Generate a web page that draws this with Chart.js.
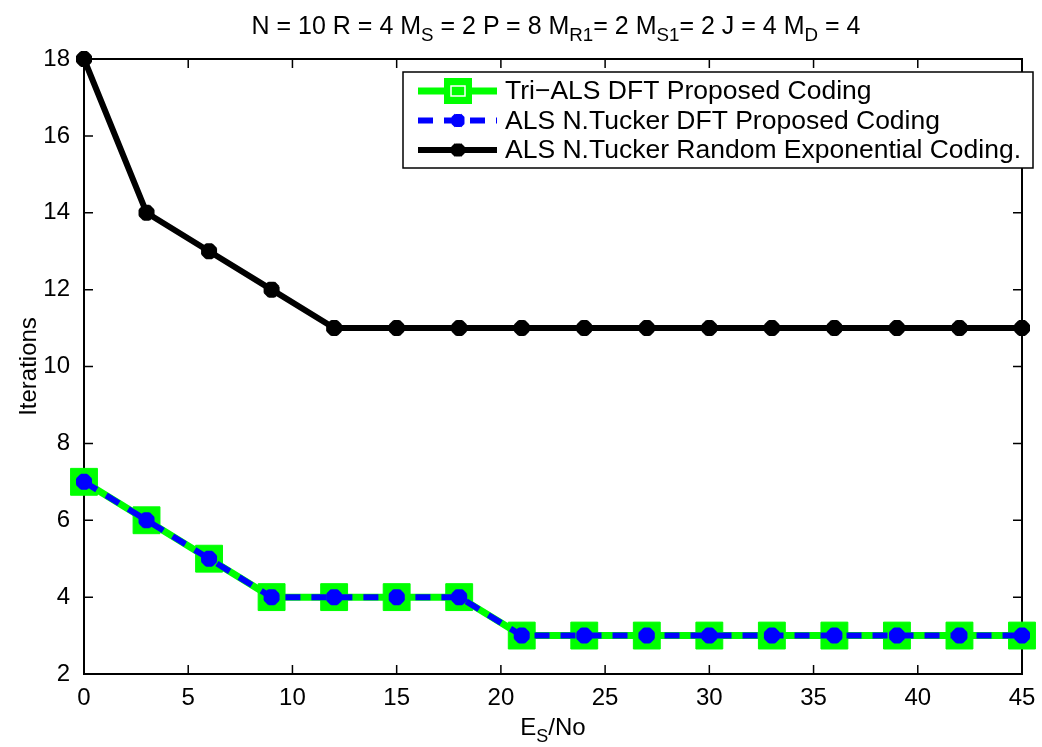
<!DOCTYPE html>
<html>
<head>
<meta charset="utf-8">
<script src="https://cdn.jsdelivr.net/npm/chart.js@4/dist/chart.umd.min.js"></script>
<style>
  body { margin: 0; background: #fff; }
  #wrap { position: relative; width: 1042px; height: 747px; font-family: "Liberation Sans", Arial, sans-serif; }
  #titre { position: absolute; left: 0; top: 11px; width: 1112px; text-align: center; font-size: 25px; color: #000; white-space: nowrap; }
  #xlab { position: absolute; left: 0; top: 713px; width: 1106px; text-align: center; font-size: 24px; color: #000; }
  sub { font-size: 75%; vertical-align: -7px; line-height: 0; }
</style>
</head>
<body>
<div id="wrap">
  <canvas id="chart" width="1042" height="747"></canvas>
  <div id="titre">N = 10 R = 4 M<sub>S</sub> = 2 P = 8 M<sub>R1</sub>= 2 M<sub>S1</sub>= 2 J = 4 M<sub>D</sub> = 4</div>
  <div id="xlab">E<sub>S</sub>/No</div>
</div>
<script>
// valeurs
const esNo = [0, 3, 6, 9, 12, 15, 18, 21, 24, 27, 30, 33, 36, 39, 42, 45];
const triAlsDft = [7, 6, 5, 4, 4, 4, 4, 3, 3, 3, 3, 3, 3, 3, 3, 3];
const alsTuckerDft = [7, 6, 5, 4, 4, 4, 4, 3, 3, 3, 3, 3, 3, 3, 3, 3];
const alsTuckerRandom = [18, 14, 13, 12, 11, 11, 11, 11, 11, 11, 11, 11, 11, 11, 11, 11];
const xTicks = [0, 5, 10, 15, 20, 25, 30, 35, 40, 45];
const yTicks = [2, 4, 6, 8, 10, 12, 14, 16, 18];
const noms = [
    "Tri\u2212ALS DFT Proposed Coding",
    "ALS N.Tucker DFT Proposed Coding",
    "ALS N.Tucker Random Exponential Coding."
];

const police = '"Liberation Sans", Arial, sans-serif';
const pts = arr => esNo.map((x, i) => ({ x: x, y: arr[i] }));

// cadre + graduations vers l'intérieur (style matlab)
const cadre = {
    id: 'cadre',
    beforeDatasetsDraw(chart) {
        const { ctx, chartArea: a, scales } = chart;
        ctx.save();
        ctx.strokeStyle = '#000';
        ctx.lineWidth = 2;
        ctx.strokeRect(a.left, a.top, a.right - a.left, a.bottom - a.top);
        ctx.lineWidth = 1.5;
        ctx.beginPath();
        xTicks.forEach(v => {
            const px = scales.x.getPixelForValue(v);
            ctx.moveTo(px, a.bottom); ctx.lineTo(px, a.bottom - 9);
            ctx.moveTo(px, a.top); ctx.lineTo(px, a.top + 9);
        });
        yTicks.forEach(v => {
            const py = scales.y.getPixelForValue(v);
            ctx.moveTo(a.left, py); ctx.lineTo(a.left + 9, py);
            ctx.moveTo(a.right, py); ctx.lineTo(a.right - 9, py);
        });
        ctx.stroke();
        ctx.restore();
    }
};

// petit marqueur "étoile épaisse"
function etoile(ctx, x, y, r, couleur) {
    ctx.save();
    ctx.strokeStyle = couleur;
    ctx.lineWidth = 5;
    ctx.beginPath();
    ctx.moveTo(x - r, y - r); ctx.lineTo(x + r, y + r);
    ctx.moveTo(x - r, y + r); ctx.lineTo(x + r, y - r);
    ctx.moveTo(x - r * 1.3, y); ctx.lineTo(x + r * 1.3, y);
    ctx.moveTo(x, y - r * 1.3); ctx.lineTo(x, y + r * 1.3);
    ctx.stroke();
    ctx.restore();
}

// légende encadrée avec échantillon de trait
const legende = {
    id: 'legende',
    afterDraw(chart) {
        const ctx = chart.ctx;
        const bx = 403, by = 72, bw = 630, bh = 96;
        ctx.save();
        ctx.fillStyle = '#fff';
        ctx.fillRect(bx, by, bw, bh);
        ctx.strokeStyle = '#000';
        ctx.lineWidth = 1.5;
        ctx.strokeRect(bx, by, bw, bh);
        ctx.font = '26.5px ' + police;
        ctx.textBaseline = 'middle';
        chart.data.datasets.forEach((ds, i) => {
            const y = by + 19 + i * 29.5;
            ctx.strokeStyle = ds.borderColor;
            ctx.lineWidth = ds.borderWidth;
            ctx.setLineDash(ds.borderDash || []);
            ctx.beginPath();
            ctx.moveTo(418, y); ctx.lineTo(497, y);
            ctx.stroke();
            ctx.setLineDash([]);
            if (i === 0) {
                ctx.fillStyle = '#00ff00';
                ctx.fillRect(444, y - 13, 28, 26);
                ctx.strokeStyle = '#fff';
                ctx.lineWidth = 1.5;
                ctx.strokeRect(451, y - 5, 14, 10);
            } else {
                etoile(ctx, 458, y, 5, ds.pointBorderColor);
            }
            ctx.fillStyle = '#000';
            ctx.fillText(noms[i], 505, y + 1);
        });
        ctx.restore();
    }
};

new Chart(document.getElementById('chart'), {
    type: 'line',
    data: {
        datasets: [{
            label: noms[0],
            data: pts(triAlsDft),
            order: 2,
            clip: false,
            borderColor: '#00ff00',
            borderWidth: 7,
            pointStyle: 'rect',
            pointRadius: 19,
            pointBackgroundColor: '#00ff00',
            pointBorderColor: '#00ff00',
            pointBorderWidth: 1
        }, {
            label: noms[1],
            data: pts(alsTuckerDft),
            order: 0,
            clip: false,
            borderColor: '#0000ff',
            borderWidth: 6,
            borderDash: [15, 11],
            pointStyle: 'star',
            pointRadius: 8,
            pointBackgroundColor: '#0000ff',
            pointBorderColor: '#0000ff',
            pointBorderWidth: 6
        }, {
            label: noms[2],
            data: pts(alsTuckerRandom),
            order: 1,
            clip: false,
            borderColor: '#000',
            borderWidth: 6,
            pointStyle: 'star',
            pointRadius: 8,
            pointBackgroundColor: '#000',
            pointBorderColor: '#000',
            pointBorderWidth: 6
        }]
    },
    options: {
        responsive: false,
        animation: false,
        layout: { padding: { top: 59, right: 19, left: 0, bottom: 0 } },
        plugins: { legend: { display: false }, tooltip: { enabled: false } },
        elements: { line: { tension: 0 } },
        scales: {
            x: {
                type: 'linear', min: 0, max: 45,
                afterBuildTicks: s => { s.ticks = xTicks.map(v => ({ value: v })); },
                afterFit: s => { s.height = 73; },
                grid: { display: false },
                border: { display: false },
                ticks: { color: '#000', padding: 2, maxRotation: 0, font: { size: 24, family: police } }
            },
            y: {
                type: 'linear', min: 2, max: 18,
                afterBuildTicks: s => { s.ticks = yTicks.map(v => ({ value: v })); },
                afterFit: s => { s.width = 84; },
                grid: { display: false },
                border: { display: false },
                title: { display: true, text: 'Iterations', color: '#000', padding: { top: 15, bottom: 0 }, font: { size: 24, family: police } },
                ticks: { color: '#000', padding: 6, font: { size: 24, family: police } }
            }
        }
    },
    plugins: [cadre, legende]
});
</script>
</body>
</html>
